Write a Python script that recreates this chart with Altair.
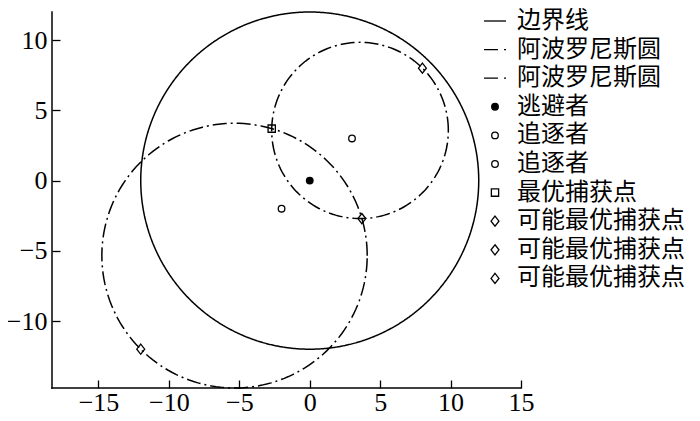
import altair as alt
import pandas as pd

# axis ranges and ticks
x_domain = [-18.3, 15]
y_domain = [-14.76, 12]
x_ticks = [-15, -10, -5, 0, 5, 10, 15]
y_ticks = [-10, -5, 0, 5, 10]

# circles: boundary + two Apollonius circles
circle_keys = ["b", "a1", "a2"]
circle_cx = [0.0, 3.57, -5.34]
circle_cy = [0.0, 3.57, -5.34]
circle_r = [12.0, 6.27, 9.42]
circle_dash = [[1, 0], [14, 4, 2, 4], [14, 4, 2, 4]]

# points
point_keys = ["e", "p1", "p2", "o", "d1", "d2", "d3"]
point_x = [0, 3, -2, -2.7, 8, 3.7, -12]
point_y = [0, 3, -2, 3.7, 8, -2.7, -12]

# legend
legend_keys = ["b", "a1", "a2", "e", "p1", "p2", "o", "d1", "d2", "d3"]
legend_labels = ["边界线", "阿波罗尼斯圆", "阿波罗尼斯圆", "逃避者", "追逐者", "追逐者",
                 "最优捕获点", "可能最优捕获点", "可能最优捕获点", "可能最优捕获点"]

LINE = "M-1,0H1"
DASHDOT = "M-1,0H0.27M0.82,0H1"
CIRCLE = "M0.3,0A0.3,0.3,0,1,1,-0.3,0A0.3,0.3,0,1,1,0.3,0Z"
SQUARE = "M-0.33,-0.33H0.33V0.33H-0.33Z"
DIAMOND = "M0,-0.46L0.36,0L0,0.46L-0.36,0Z"
legend_shapes = [LINE, DASHDOT, DASHDOT, CIRCLE, CIRCLE, CIRCLE, SQUARE, DIAMOND, DIAMOND, DIAMOND]
legend_fills = ["transparent", "transparent", "transparent", "black", "transparent", "transparent",
                "transparent", "transparent", "transparent", "transparent"]
legend_strokes = ["black"] * len(legend_keys)

xs = alt.Scale(domain=x_domain, nice=False, zero=False)
ys = alt.Scale(domain=y_domain, nice=False, zero=False)

common_axis = dict(title=None, grid=False, domain=False, offset=-8, tickSize=8, tickWidth=1.3,
                   tickColor="black", labelFont="Liberation Serif", labelFontSize=26,
                   labelColor="black", labelFlush=False, labelOverlap=False)
xaxis = alt.Axis(values=x_ticks, labelPadding=1, **common_axis)
yaxis = alt.Axis(values=y_ticks, labelPadding=5, **common_axis)

layers = []
for k, cx, cy, r, dash in zip(circle_keys, circle_cx, circle_cy, circle_r, circle_dash):
    layers.append(
        alt.Chart(alt.sequence(0, 362, 2, as_="t"))
        .transform_calculate(
            x=f"{cx}+{r}*cos(datum.t*PI/180)",
            y=f"{cy}+{r}*sin(datum.t*PI/180)",
        )
        .mark_line(color="black", strokeWidth=1.5, strokeDash=dash)
        .encode(
            x=alt.X("x:Q", scale=xs, axis=xaxis),
            y=alt.Y("y:Q", scale=ys, axis=yaxis),
            order="t:Q",
        )
    )

one = pd.DataFrame({"a": [0]})
left_line = alt.Chart(one).mark_rule(color="black", strokeWidth=1.5, strokeCap="square").encode(
    x=alt.X(datum=x_domain[0], type="quantitative", scale=xs, axis=xaxis),
    y=alt.Y(datum=y_domain[0], type="quantitative", scale=ys, axis=yaxis),
    y2=alt.datum(y_domain[1]),
)
bottom_line = alt.Chart(one).mark_rule(color="black", strokeWidth=1.5, strokeCap="square").encode(
    y=alt.Y(datum=y_domain[0], type="quantitative", scale=ys, axis=yaxis),
    x=alt.X(datum=x_domain[0], type="quantitative", scale=xs, axis=xaxis),
    x2=alt.datum(x_domain[1]),
)

label_expr = "[" + ",".join(f"'{s}'" for s in legend_labels) + "][indexof([" + \
    ",".join(f"'{s}'" for s in legend_keys) + "], datum.value)]"

legend = alt.Legend(title=None, orient="none", legendX=431, legendY=-3, labelExpr=label_expr,
                    symbolSize=484, symbolStrokeWidth=1.3,
                    labelFont="Noto Sans CJK SC", labelFontSize=24, labelColor="black",
                    labelLimit=400, rowPadding=4.6, labelOffset=10, padding=0)

pts = pd.DataFrame({"k": point_keys, "x": point_x, "y": point_y})
points = alt.Chart(pts).mark_point(filled=True, strokeWidth=1.3, size=484, opacity=1).encode(
    x=alt.X("x:Q", scale=xs, axis=xaxis),
    y=alt.Y("y:Q", scale=ys, axis=yaxis),
    shape=alt.Shape("k:N", scale=alt.Scale(domain=legend_keys, range=legend_shapes), legend=legend),
    fill=alt.Fill("k:N", scale=alt.Scale(domain=legend_keys, range=legend_fills), legend=legend),
    stroke=alt.Stroke("k:N", scale=alt.Scale(domain=legend_keys, range=legend_strokes), legend=legend),
)

chart = alt.layer(*layers, left_line, bottom_line, points).properties(
    width=469, height=376,
    autosize=alt.AutoSizeParams(type="none"),
    padding={"left": 44, "top": 4, "right": 171, "bottom": 27},
).configure_view(stroke=None)

chart.save("out.html", embed_options={"renderer": "svg", "actions": False})
